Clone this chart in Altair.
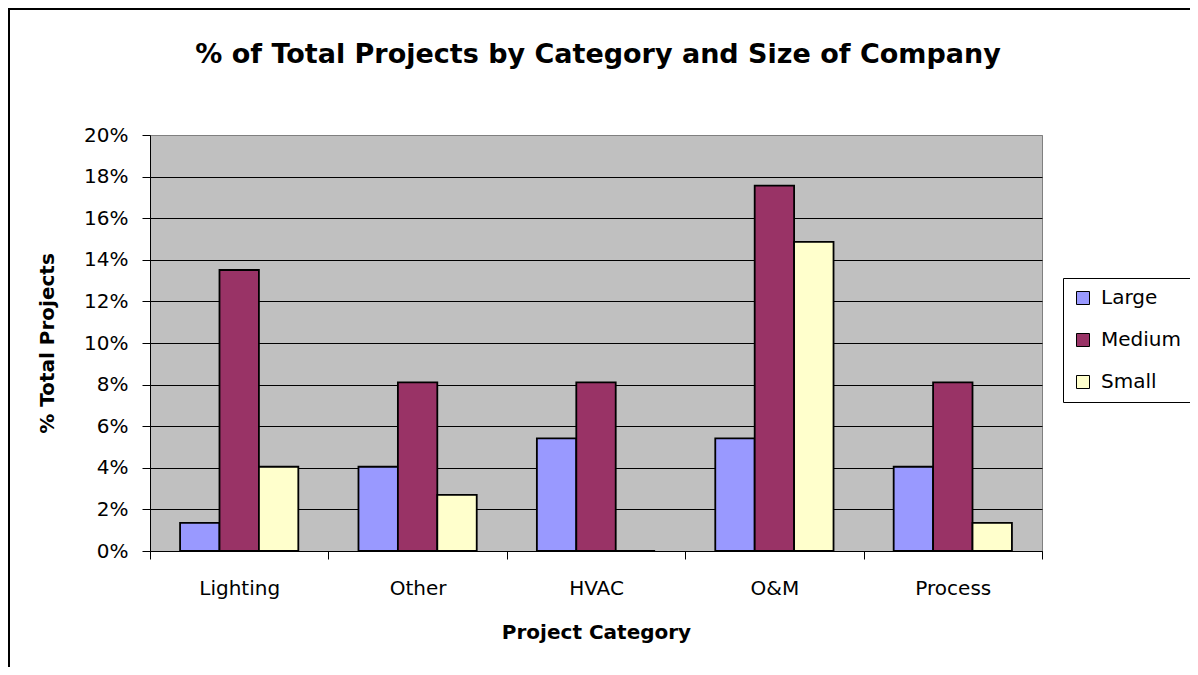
import altair as alt
import pandas as pd

categories = ["Lighting", "Other", "HVAC", "O&M", "Process"]
sizes = ["Large", "Medium", "Small"]
large = [0.0135, 0.0405, 0.0541, 0.0541, 0.0405]
medium = [0.1351, 0.0811, 0.0811, 0.1757, 0.0811]
small = [0.0405, 0.0270, 0.0, 0.1486, 0.0135]
colors = ["#9999FF", "#993366", "#FFFFCC"]
y_ticks = [0, 0.02, 0.04, 0.06, 0.08, 0.10, 0.12, 0.14, 0.16, 0.18, 0.20]
title_text = "% of Total Projects by Category and Size of Company"

rows = []
for i, c in enumerate(categories):
    for s, vals in zip(sizes, [large, medium, small]):
        rows.append({"category": c, "size": s, "value": vals[i]})
df = pd.DataFrame(rows)

FONT = "DejaVu Sans"
W, H = 892, 416

bars = alt.Chart(df).mark_bar(stroke="black", strokeWidth=1.8).encode(
    x=alt.X(
        "category:N",
        sort=categories,
        scale=alt.Scale(paddingInner=0, paddingOuter=0),
        axis=alt.Axis(
            title="Project Category",
            labelAngle=0,
            tickBand="extent",
            tickSize=8,
            tickColor="black",
            domainColor="black",
            labelPadding=19,
            titlePadding=24,
            labelFontSize=20,
            titleFontSize=20,
            labelColor="black",
            titleColor="black",
            labelFont=FONT,
            titleFont=FONT,
            titleFontWeight="bold",
            grid=False,
        ),
    ),
    xOffset=alt.XOffset(
        "size:N", sort=sizes, scale=alt.Scale(paddingInner=0, paddingOuter=0.763)
    ),
    y=alt.Y(
        "value:Q",
        scale=alt.Scale(domain=[0, 0.2], nice=False),
        axis=alt.Axis(
            title="% Total Projects",
            format=".0%",
            values=y_ticks,
            tickSize=8,
            tickColor="black",
            domainColor="black",
            gridColor={"condition": {"test": "datum.value >= 0.199", "value": "#808080"}, "value": "black"},
            gridOpacity=1,
            labelPadding=14,
            titlePadding=26,
            labelFontSize=20,
            titleFontSize=20,
            labelColor="black",
            titleColor="black",
            labelFont=FONT,
            titleFont=FONT,
            titleFontWeight="bold",
        ),
    ),
    color=alt.Color(
        "size:N",
        sort=sizes,
        scale=alt.Scale(domain=sizes, range=colors),
        legend=alt.Legend(
            title=None,
            orient="none",
            legendX=913,
            legendY=143,
            strokeColor="black",
            fillColor="white",
            padding=10,
            rowPadding=22,
            labelFontSize=20,
            labelFont=FONT,
            labelColor="black",
            labelOffset=8,
            symbolType="square",
            symbolSize=169,
            symbolStrokeColor="black",
            symbolStrokeWidth=1,
        ),
    ),
)

one = pd.DataFrame({"t": [title_text]})

frame = alt.Chart(one).mark_rect(
    fill=None, stroke="black", strokeWidth=2
).encode(
    x=alt.value(-141),
    x2=alt.value(1200),
    y=alt.value(-126),
    y2=alt.value(800),
)

title = alt.Chart(one).mark_text(
    font=FONT, fontSize=27, fontWeight="bold", color="black",
    align="center", baseline="middle",
).encode(
    text="t:N",
    x=alt.value(W / 2 + 2),
    y=alt.value(-80),
)

chart = alt.layer(bars, frame, title).properties(
    width=W,
    height=H,
    autosize=alt.AutoSizeParams(type="none"),
    padding={"left": 142, "top": 127, "right": 148, "bottom": 116},
    background="white",
).configure_view(
    fill="#C0C0C0", stroke="#808080", strokeWidth=1
)

chart.save("out.html", embed_options={"renderer": "svg", "actions": False})
